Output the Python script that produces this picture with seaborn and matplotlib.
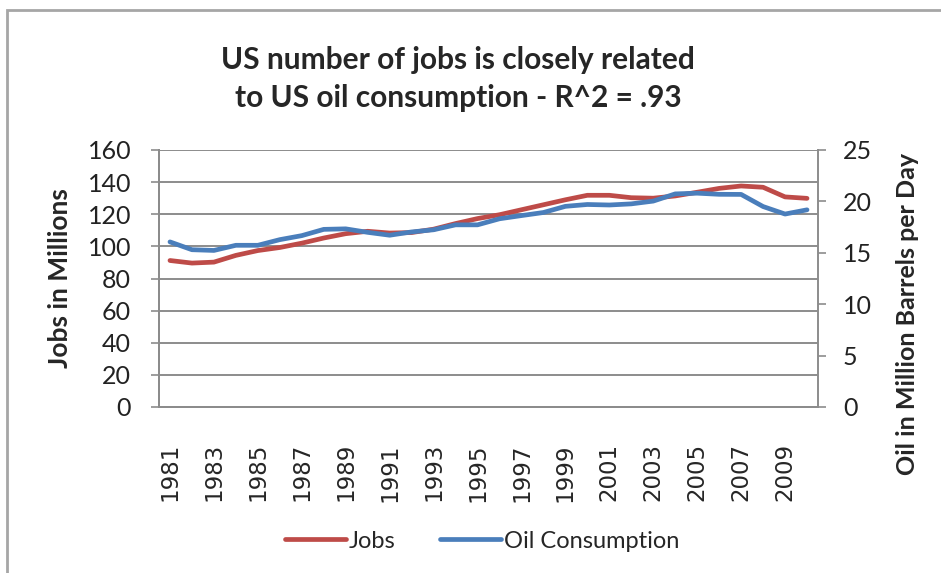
import numpy as np
import pandas as pd
import seaborn as sns
import matplotlib.pyplot as plt
from matplotlib.patches import Rectangle
from matplotlib.lines import Line2D

years = list(range(1981, 2011))
jobs = [91.2, 89.6, 90.2, 94.4, 97.4, 99.3, 102.0, 105.2, 107.9, 109.4,
        108.3, 108.6, 110.7, 114.2, 117.3, 119.7, 122.8, 125.9, 129.0, 131.8,
        131.8, 130.3, 130.0, 131.4, 133.7, 136.1, 137.6, 136.8, 130.8, 129.9]
oil = [16.06, 15.30, 15.23, 15.73, 15.73, 16.28, 16.67, 17.28, 17.33, 16.99,
       16.71, 17.03, 17.24, 17.72, 17.72, 18.31, 18.62, 18.92, 19.52, 19.70,
       19.65, 19.76, 20.03, 20.73, 20.80, 20.69, 20.68, 19.50, 18.77, 19.18]

red = '#BE4B48'
blue = '#4A7EBB'
grid_col = '#8C8C8C'

sns.set_style('white')
plt.rcParams['font.family'] = ['Lato', 'DejaVu Sans']

df = pd.DataFrame({'pos': np.arange(len(years)), 'Jobs': jobs, 'Oil': oil})

fig = plt.figure(figsize=(9.41, 5.73), dpi=100)
ax = fig.add_axes([159 / 941, 1 - 407 / 573, 659 / 941, 257 / 573])
ax2 = ax.twinx()

sns.lineplot(data=df, x='pos', y='Jobs', ax=ax, color=red, linewidth=3.4,
             solid_capstyle='round')
sns.lineplot(data=df, x='pos', y='Oil', ax=ax2, color=blue, linewidth=3.4,
             solid_capstyle='round')

n = len(years)
ax.set_xlim(-0.5, n - 0.5)
ax.set_ylim(0, 160)
ax2.set_ylim(0, 25)
ax.set_yticks(range(0, 161, 20))
ax2.set_yticks(range(0, 26, 5))

# labels every other year at category centres, tick marks at boundaries
ax.set_xticks(np.arange(0, n, 2))
ax.set_xticklabels([str(y) for y in years[::2]], rotation=90,
                   family='DejaVu Sans', fontsize=16.5)
ax.set_xticks(np.arange(-0.5, n, 1), minor=True)
ax.tick_params(axis='x', which='major', length=0, pad=26)
ax.tick_params(axis='x', which='minor', length=6, width=1.2, color=grid_col)
ax.tick_params(axis='y', length=6, width=1.2, color=grid_col, labelsize=18, pad=14)
ax2.tick_params(axis='y', length=6, width=1.2, color=grid_col, labelsize=18, pad=12)
for lab in ax.get_yticklabels() + ax2.get_yticklabels():
    lab.set_color('#222222')

ax.grid(True, axis='y', color=grid_col, linewidth=1.4)
ax.set_axisbelow(True)
for a in (ax, ax2):
    for s in a.spines.values():
        s.set_visible(False)
    a.spines['left'].set_visible(True)
    a.spines['bottom'].set_visible(True)
    a.spines['left'].set_color(grid_col)
    a.spines['bottom'].set_color(grid_col)
    a.spines['left'].set_linewidth(1.4)
    a.spines['bottom'].set_linewidth(1.4)
ax2.spines['right'].set_visible(True)
ax2.spines['right'].set_color(grid_col)
ax2.spines['right'].set_linewidth(1.4)

ax.set_xlabel('')
ax.set_ylabel('Jobs in Millions', fontsize=19, fontweight='bold')
ax.yaxis.set_label_coords((72 - 159) / 659, (407 - 278) / 257)
ax2.set_ylabel('Oil in Million Barrels per Day', fontsize=18, fontweight='bold')
ax2.yaxis.set_label_coords((896 - 159) / 659, (407 - 314) / 257)

fig.text(458 / 941, 1 - 79 / 573, 'US number of jobs is closely related\nto US oil consumption - R^2 = .93',
         ha='center', va='center', fontsize=21.5, fontweight='bold',
         linespacing=1.45)

handles = [Line2D([0], [0], color=red, linewidth=3.4, solid_capstyle='round'),
           Line2D([0], [0], color=blue, linewidth=3.4, solid_capstyle='round')]
fig.legend(handles, ['Jobs', 'Oil Consumption'], loc='center',
           bbox_to_anchor=(0.512, 1 - 541 / 573), ncol=2, frameon=False,
           fontsize=17, handlelength=2.6, handletextpad=0.1, columnspacing=1.9)

# outer chart border
fig.add_artist(Rectangle((7 / 941, -0.1), 1.2, 1 - 10 / 573 + 0.1,
                         transform=fig.transFigure, fill=False,
                         edgecolor='#A6A6A6', linewidth=2))

fig.savefig('out.png', dpi=100)
